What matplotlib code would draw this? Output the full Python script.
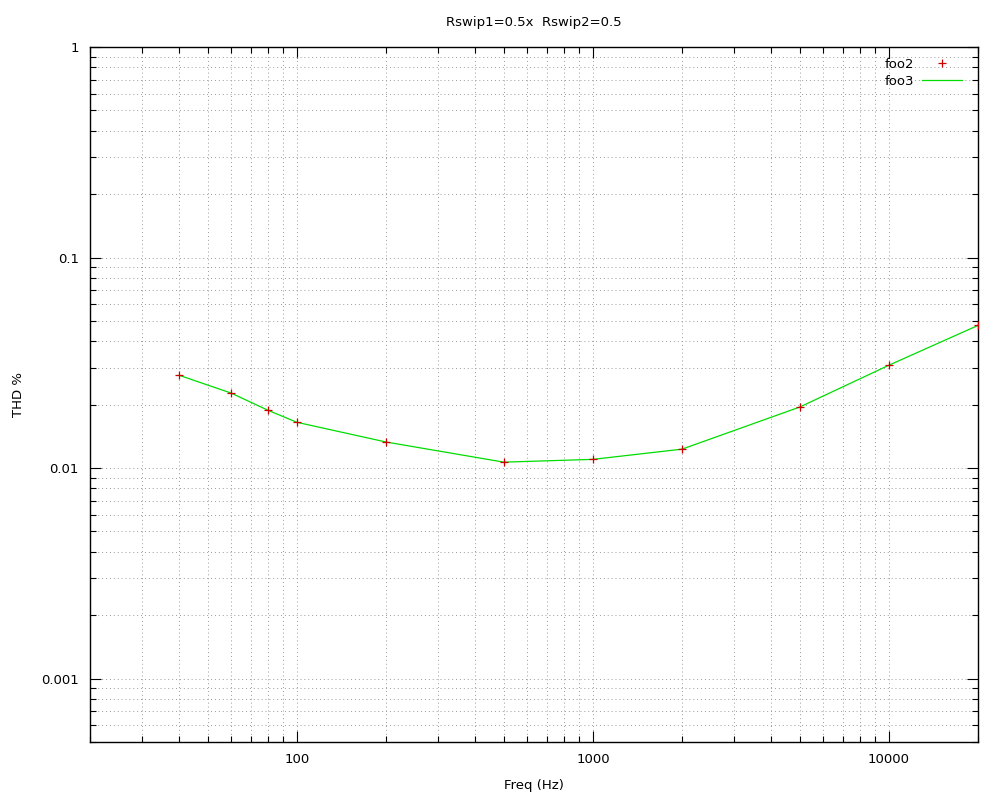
import matplotlib.pyplot as plt
from matplotlib.ticker import LogLocator, NullFormatter, FixedLocator, FixedFormatter

# THD sweep
freq = [40, 60, 80, 100, 200, 500, 1000, 2000, 5000, 10000, 20000]
thd = [0.0276, 0.0227, 0.0188, 0.0165, 0.0133, 0.01067, 0.0110, 0.0123, 0.0195, 0.0308, 0.0476]

xticks = [100, 1000, 10000]
xlabels = ["100", "1000", "10000"]
yticks = [0.001, 0.01, 0.1, 1]
ylabels = ["0.001", "0.01", "0.1", "1"]

plt.rcParams["font.family"] = "DejaVu Sans"
plt.rcParams["font.size"] = 9.5

fig = plt.figure(figsize=(9.86, 7.98), dpi=100)
ax = fig.add_axes([90 / 986, 1 - 742 / 798, (978 - 90) / 986, (742 - 47) / 798])

ax.plot(freq, thd, color="#00dd00", lw=0.9, label="foo3", zorder=2)
ax.plot(freq, thd, ls="none", marker="+", ms=6, mew=0.9, color="#cc0000", label="foo2", zorder=3)

ax.set_xscale("log")
ax.set_yscale("log")
ax.set_xlim(20, 20000)
ax.set_ylim(0.0005, 1)

ax.xaxis.set_major_locator(FixedLocator(xticks))
ax.xaxis.set_major_formatter(FixedFormatter(xlabels))
ax.yaxis.set_major_locator(FixedLocator(yticks))
ax.yaxis.set_major_formatter(FixedFormatter(ylabels))
for a in (ax.xaxis, ax.yaxis):
    a.set_minor_locator(LogLocator(base=10, subs=range(2, 10), numticks=20))
    a.set_minor_formatter(NullFormatter())

ax.tick_params(which="both", direction="in", top=True, right=True, width=0.8, color="black")
ax.tick_params(which="major", length=8, pad=8)
ax.tick_params(which="minor", length=4)
ax.grid(True, which="both", ls=(0, (1, 3)), color="#999999", lw=0.7)
for s in ax.spines.values():
    s.set_linewidth(1.0)

ax.set_xlabel("Freq (Hz)", labelpad=9.5)
ax.set_ylabel("THD %", labelpad=11.5)
ax.set_title("Rswip1=0.5x  Rswip2=0.5", pad=15, fontsize=9.5)

h, l = ax.get_legend_handles_labels()
ax.legend([h[1], h[0]], [l[1], l[0]], loc="upper right", frameon=False, markerfirst=False,
          bbox_to_anchor=(0.988, 0.9924), borderaxespad=0,
          handlelength=3.0, labelspacing=0.3, handletextpad=0.6)

fig.savefig("out.png", dpi=100)
